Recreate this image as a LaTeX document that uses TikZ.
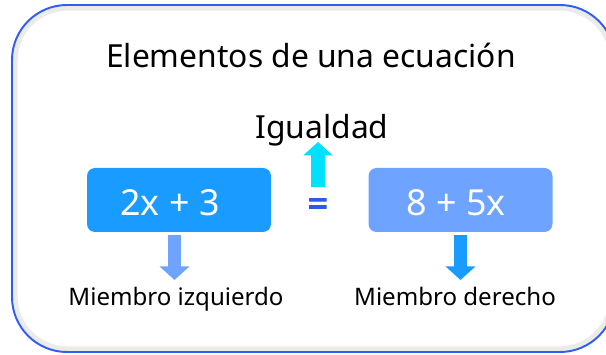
\documentclass[tikz,border=0pt]{standalone}
\usepackage{fontspec}
\setmainfont{Noto Sans}
\newfontfamily\eqfont[FakeBold=3]{Noto Sans}
\usetikzlibrary{arrows.meta}
\definecolor{frameblue}{RGB}{47,94,240}
\definecolor{boxblue}{RGB}{26,155,255}
\definecolor{boxlight}{RGB}{110,164,255}
\definecolor{eqcyan}{RGB}{0,224,255}
\definecolor{eqblue}{RGB}{42,92,230}
\begin{document}
\begin{tikzpicture}[
	bigtext/.style={ anchor=base, inner sep=0pt, font=\fontsize{18.1}{21}\selectfont },
	smalltext/.style={ anchor=base, inner sep=0pt, font=\fontsize{13.7}{16}\selectfont },
	membox/.style={ rounded corners=0.16cm, minimum width=3.68cm, minimum height=1.28cm, inner sep=0pt },
	memtext/.style={ anchor=base, inner sep=0pt, text=white, font=\fontsize{20.4}{24}\selectfont },
	fatarrow/.style={ line width=0.27cm, -{Triangle[width=0.58cm,length=0.27cm]} }
]
\useasboundingbox (0,0) rectangle (12.12,7.1);

% frame
\draw[black!8, line width=3pt, rounded corners=1.05cm] (0.30,0.12) rectangle (12.24,6.94);
\draw[frameblue, line width=1.1pt, rounded corners=1.1cm] (0.24,0.06) rectangle (12.30,7.0);

\node at (6.22,5.74) (title) [bigtext] {Elementos de una ecuación};
\node at (6.44,4.32) (igualdad) [bigtext] {Igualdad};

\node at (3.58,3.10) (left) [membox,fill=boxblue] {};
\node at (9.21,3.10) (right) [membox,fill=boxlight] {};
\node at (3.40,2.78) (lefttext) [memtext] {2x + 3};
\node at (9.12,2.78) (righttext) [memtext] {8 + 5x};
\node at (6.36,2.78) (equal) [memtext,text=eqblue] {\eqfont =};

\node at (3.52,0.98) (lefttag) [smalltext] {Miembro izquierdo};
\node at (9.10,0.98) (righttag) [smalltext] {Miembro derecho};

\coordinate (eqfoot) at (6.36,3.36);
\coordinate (igtip) at (6.36,4.26);
\coordinate (leftfoot) at (3.49,2.40);
\coordinate (lefttip) at (3.49,1.50);
\coordinate (rightfoot) at (9.21,2.40);
\coordinate (righttip) at (9.21,1.50);

\draw[fatarrow,eqcyan] (eqfoot) -- (igtip);
\draw[fatarrow,boxlight] (leftfoot) -- (lefttip);
\draw[fatarrow,boxblue] (rightfoot) -- (righttip);

\end{tikzpicture}
\end{document}
